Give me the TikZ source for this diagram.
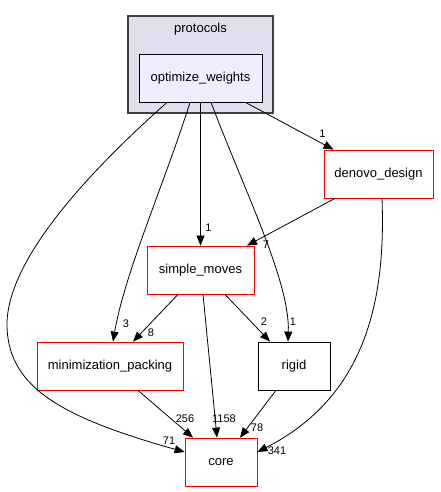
\documentclass[tikz,border=0pt]{standalone}
\usepackage{fontspec}
\setmainfont{Liberation Sans}
\usetikzlibrary{arrows.meta}
\definecolor{clusterfill}{HTML}{DFDFEE}
\definecolor{clusterdraw}{HTML}{404040}
\definecolor{dirfill}{HTML}{EEEEFF}
\definecolor{dirred}{HTML}{FF0000}

\begin{document}
\begin{tikzpicture}[
    x=1pt, y=1pt,
    >={Triangle[length=10pt,width=8pt]},
    line width=0.8pt,
    box/.style={draw=dirred, fill=white, minimum height=48pt, inner sep=0pt, font=\fontsize{13}{15}\selectfont},
    elabel/.style={inner sep=0pt, font=\fontsize{11}{13}\selectfont}]
    \useasboundingbox (0,0) rectangle (440,492);
    % CLUSTER
    \node[draw=clusterdraw, fill=clusterfill, line width=1.2pt, minimum width=145pt, minimum height=97pt] (protocols) at (200.5,427.5) {};
    \node[font=\fontsize{13}{15}\selectfont] (protocolslabel) at (200.5,463) {protocols};

    % NODES
    % node optimize_weights
    \node[box, draw=black, fill=dirfill, minimum width=123pt] (ow) at (200.5,414) {optimize\_weights};
    % node denovo_design
    \node[box, minimum width=109pt] (denovo) at (378.5,318) {denovo\_design};
    % node simple_moves
    \node[box, minimum width=107pt] (sm) at (200.5,222) {simple\_moves};
    % node minimization_packing
    \node[box, minimum width=146pt] (mp) at (110,126) {minimization\_packing};
    % node rigid
    \node[box, draw=black, minimum width=72pt] (rigid) at (294,126) {rigid};
    % node core
    \node[box, minimum width=72pt] (core) at (221,30) {core};

    % ARROWS
    \draw[->] ([xshift=-33.5pt]ow.south) .. controls (100,330) and (5,235) .. (7,165) .. controls (9,105) and (60,75) .. ([yshift=10pt]core.west);
    \draw[->] ([xshift=-10.5pt]ow.south) .. controls (165,310) and (125,220) .. ([xshift=3pt]mp.north);
    \draw[->] (ow.south) -- (sm.north);
    \draw[->] ([xshift=10.5pt]ow.south) .. controls (245,300) and (290,210) .. ([xshift=-6pt]rigid.north);
    \draw[->] ([xshift=45pt]ow.south) -- ([xshift=-45pt]denovo.north);
    \draw[->] ([xshift=-43.5pt]denovo.south) -- ([xshift=46.5pt]sm.north);
    \draw[->] ([xshift=3.5pt]denovo.south) .. controls (386,190) and (365,95) .. ([yshift=10pt]core.east);
    \draw[->] ([xshift=-22.5pt]sm.south) -- ([xshift=23pt]mp.north);
    \draw[->] ([xshift=2.5pt]sm.south) -- ([xshift=-4pt]core.north);
    \draw[->] ([xshift=24.5pt]sm.south) -- ([xshift=-24pt]rigid.north);
    \draw[->] ([xshift=28pt]mp.south) -- ([xshift=-28pt]core.north);
    \draw[->] ([xshift=-18pt]rigid.south) -- ([xshift=19pt]core.north);

    % EDGE LABELS
    \node[elabel] (l71) at (169,51) {71};
    \node[elabel] (l3) at (126,168) {3};
    \node[elabel] (l1sm) at (208.5,264) {1};
    \node[elabel] (l1rigid) at (293,170) {1};
    \node[elabel] (l1denovo) at (322.5,358) {1};
    \node[elabel] (l7) at (266,247) {7};
    \node[elabel] (l341) at (277,41) {341};
    \node[elabel] (l8) at (151,159) {8};
    \node[elabel] (l1158) at (224,73) {1158};
    \node[elabel] (l2) at (264,170) {2};
    \node[elabel] (l256) at (185,73) {256};
    \node[elabel] (l78) at (257,64) {78};
\end{tikzpicture}
\end{document}
